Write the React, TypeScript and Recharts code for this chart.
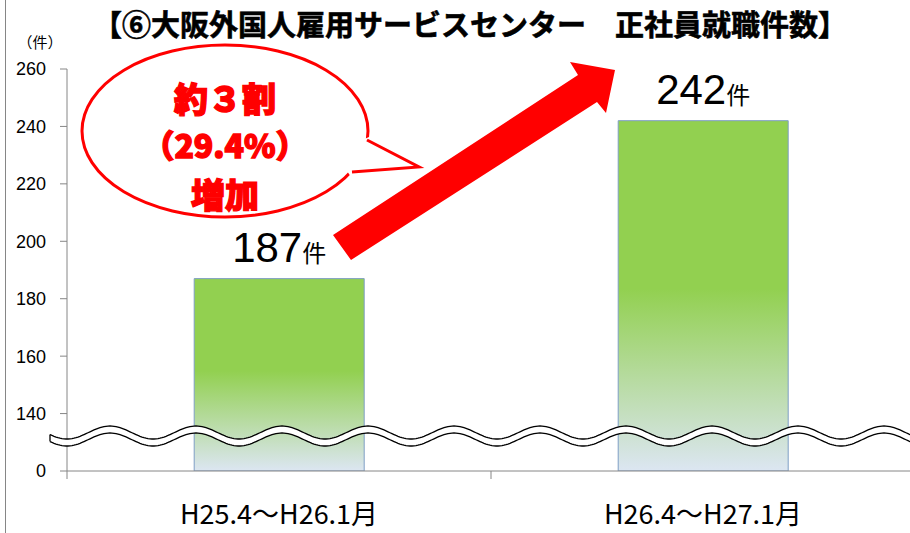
import { BarChart, Bar, XAxis, YAxis, LabelList } from "recharts";

// categories and values
const categories = ["H25.4～H26.1月", "H26.4～H27.1月"];
const hires = [187, 242];

// broken axis: the floor (120) is shown as "0"
const AXIS_FLOOR = 120;
const yTicks = [120, 140, 160, 180, 200, 220, 240, 260];
const yTickLabels = ["0", "140", "160", "180", "200", "220", "240", "260"];

const bubbleLines = ["約３割", "（29.4%）", "増加"];

const data = categories.map((c, i) => ({ cat: c, value: hires[i] }));

const JP = "'Noto Sans CJK JP', 'Noto Sans', sans-serif";
const NUM = "'Liberation Sans', Arial, sans-serif";
const GRAY = "#868686";

function XTick({ x, y, payload }: any) {
  return (
    <text x={x} y={y + 51} textAnchor="middle" fontFamily={JP} fontSize={27} fill="#000">
      {payload.value}
    </text>
  );
}

function YTick({ x, y, payload }: any) {
  const idx = yTicks.indexOf(payload.value);
  return (
    <text x={x} y={y} dy="0.36em" textAnchor="end" fontFamily={NUM} fontSize={18} fill="#000">
      {yTickLabels[idx] ?? payload.value}
    </text>
  );
}

function BarValue({ x, y, width, value }: any) {
  return (
    <text x={x + width / 2} y={y - 17} textAnchor="middle" fill="#000">
      <tspan fontFamily={NUM} fontSize={42}>{value}</tspan>
      <tspan fontFamily={JP} fontSize={24}>件</tspan>
    </text>
  );
}

// wavy break band across the plot
function wavePath(yc: number, x0: number, x1: number) {
  const pts: string[] = [];
  for (let x = x0; x <= x1; x += 2) {
    const y = yc - 6.5 * Math.cos((2 * Math.PI * (x - 110)) / 86);
    pts.push(`${x},${y.toFixed(2)}`);
  }
  return pts;
}

function Overlay() {
  const upper = wavePath(432.5, 50, 912);
  const lower = wavePath(439.5, 50, 912);
  const band = "M" + upper.join(" L") + " L" + [...lower].reverse().join(" L") + " Z";
  return (
    <svg width={910} height={533} style={{ position: "absolute", left: 0, top: 0, pointerEvents: "none" }}>
      <line x1={5.5} y1={0} x2={5.5} y2={533} stroke={GRAY} strokeWidth={1} />
      <text x={470} y={36} textAnchor="middle" fontFamily={JP} fontWeight={700} fontSize={29} fill="#000"
        stroke="#000" strokeWidth={0.6}>
        【⑥大阪外国人雇用サービスセンター　正社員就職件数】
      </text>
      <text x={40} y={48} textAnchor="middle" fontFamily={JP} fontSize={15} fill="#000">（件）</text>

      {/* axis break */}
      <path d={band} fill="#fff" stroke="none" />
      <path d={"M" + upper.join(" L")} fill="none" stroke="#000" strokeWidth={1.3} />
      <path d={"M" + lower.join(" L")} fill="none" stroke="#000" strokeWidth={1.3} />
      <path d={`M50,${upper[0].split(",")[1]} L50,${lower[0].split(",")[1]}`} stroke="#000" strokeWidth={1.3} />

      {/* category divider ticks */}
      <line x1={67} y1={471} x2={67} y2={479} stroke={GRAY} />
      <line x1={491} y1={471} x2={491} y2={479} stroke={GRAY} />

      {/* speech bubble */}
      <ellipse cx={225} cy={131} rx={143} ry={86} fill="#fff" stroke="#ff0000" strokeWidth={3} />
      <polygon points="369,137 419,167 350,175.5 345,168 360,141" fill="#fff" />
      <polyline points="367,140 419,167 352,172" fill="none" stroke="#ff0000" strokeWidth={3} strokeLinejoin="miter" />
      {bubbleLines.map((t, i) => (
        <text key={t} x={225} y={[112, 158, 208][i]} textAnchor="middle" fontFamily={JP} fontWeight={900}
          fontSize={i === 1 ? 32 : 34} fill="#ff0000" stroke="#ff0000" strokeWidth={1.4}>
          {t}
        </text>
      ))}

      {/* growth arrow */}
      <polygon points="333,235 578,75 570,62 615,70 606,113 597,102 351,260" fill="#ff0000" />
    </svg>
  );
}

export default function App() {
  return (
    <div style={{ position: "absolute", left: 0, top: 0, width: 910, height: 533, overflow: "hidden", background: "#fff" }}>
      <BarChart width={915} height={533} data={data} margin={{ top: 69, right: 0, bottom: 0, left: 0 }}
        barCategoryGap="30%">
        <defs>
          <linearGradient id="barFill" x1="0" y1="0" x2="0" y2="1">
            <stop offset="0%" stopColor="#92D050" />
            <stop offset="48%" stopColor="#92D050" />
            <stop offset="100%" stopColor="#DCE6F2" />
          </linearGradient>
        </defs>
        <XAxis dataKey="cat" height={62} axisLine={{ stroke: GRAY }} tickLine={false} tickSize={0}
          tick={<XTick />} interval={0} />
        <YAxis type="number" domain={[AXIS_FLOOR, 260]} ticks={yTicks} width={67} allowDataOverflow
          axisLine={{ stroke: GRAY }} tickLine={{ stroke: GRAY }} tickSize={7} tickMargin={14}
          tick={<YTick />} />
        <Bar dataKey="value" fill="url(#barFill)" stroke="#7F9FC5" strokeWidth={1} isAnimationActive={false}>
          <LabelList dataKey="value" content={<BarValue />} />
        </Bar>
      </BarChart>
      <Overlay />
    </div>
  );
}
